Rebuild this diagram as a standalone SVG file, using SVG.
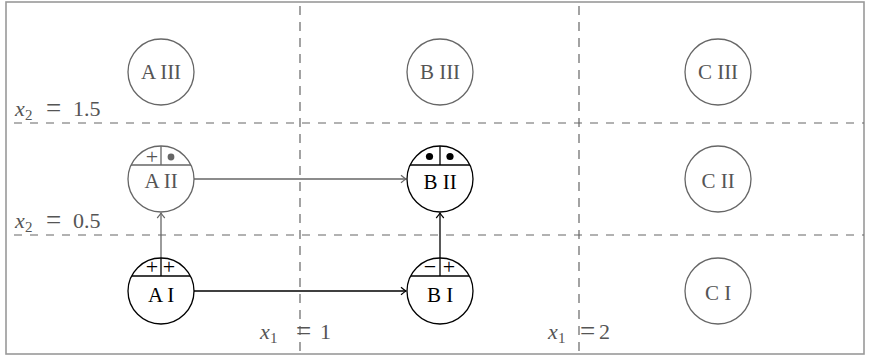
<svg xmlns="http://www.w3.org/2000/svg" width="871" height="356" viewBox="0 0 871 356">
<style>
.frame{fill:#fff;stroke:#999;stroke-width:1.6}
.dash{stroke:#666;stroke-width:1.2;stroke-dasharray:8 8;fill:none}
.vdash{stroke:#666;stroke-width:1.2;stroke-dasharray:9 7;fill:none}
.g{stroke:#666;fill:none;stroke-width:1.3}
.k{stroke:#000;fill:none;stroke-width:1.3}
text{font-family:"Liberation Serif","Times New Roman",serif}
.t{font-size:21px;text-anchor:middle}
.tg{fill:#555}
.tk{fill:#000}
.sym{font-size:22px;text-anchor:middle}
.lab{font-size:22px;fill:#555}
.it{font-style:italic}
.sub{font-size:15px}
.eq{font-size:27px}
</style>
<defs>
<marker id="ag" markerUnits="userSpaceOnUse" markerWidth="12" markerHeight="12" viewBox="-6 -6 12 12" refX="0" refY="0" orient="auto">
<path d="M-5,-3.8 Q-1.5,-0.8 0,0 Q-1.5,0.8 -5,3.8" fill="none" stroke="#666" stroke-width="1.2"/>
</marker>
<marker id="ak" markerUnits="userSpaceOnUse" markerWidth="12" markerHeight="12" viewBox="-6 -6 12 12" refX="0" refY="0" orient="auto">
<path d="M-5,-3.8 Q-1.5,-0.8 0,0 Q-1.5,0.8 -5,3.8" fill="none" stroke="#000" stroke-width="1.2"/>
</marker>
</defs>
<rect class="frame" x="6" y="2" width="858" height="352"/>
<g id="grid">
<line class="vdash" x1="300" y1="6" x2="300" y2="354"/>
<line class="vdash" x1="579" y1="6" x2="579" y2="354"/>
<line class="dash" x1="14" y1="123" x2="864" y2="123"/>
<line class="dash" x1="14" y1="235" x2="864" y2="235"/>
</g>
<g id="labels">
<text class="lab" y="116"><tspan class="it" x="15">x</tspan><tspan class="sub" x="25" dy="4">2</tspan><tspan class="eq" x="46" dy="-3">=</tspan><tspan x="73" dy="-1">1.5</tspan></text>
<text class="lab" y="228"><tspan class="it" x="15">x</tspan><tspan class="sub" x="25" dy="4">2</tspan><tspan class="eq" x="46" dy="-3">=</tspan><tspan x="73" dy="-1">0.5</tspan></text>
<text class="lab" y="339"><tspan class="it" x="260">x</tspan><tspan class="sub" x="270" dy="4">1</tspan><tspan class="eq" x="296" dy="-3">=</tspan><tspan x="320" dy="-1">1</tspan></text>
<text class="lab" y="339"><tspan class="it" x="548">x</tspan><tspan class="sub" x="558" dy="4">1</tspan><tspan class="eq" x="580" dy="-3">=</tspan><tspan x="599" dy="-1">2</tspan></text>
</g>
<g id="connectors">
<line class="g" x1="194" y1="179" x2="406" y2="179" marker-end="url(#ag)"/>
<line class="g" x1="161" y1="258" x2="161" y2="213" marker-end="url(#ag)"/>
<line class="k" x1="194" y1="291" x2="406" y2="291" marker-end="url(#ak)"/>
<line class="k" x1="440" y1="258" x2="440" y2="213" marker-end="url(#ak)"/>
</g>
<g id="A3"><circle class="g" cx="161" cy="72" r="33"/><text class="t tg" x="161" y="79">A III</text></g>
<g id="B3"><circle class="g" cx="440" cy="72" r="33"/><text class="t tg" x="440" y="79">B III</text></g>
<g id="C3"><circle class="g" cx="718" cy="72" r="33"/><text class="t tg" x="718" y="79">C III</text></g>
<g id="A2">
<circle class="g" cx="161" cy="179" r="33"/>
<line class="g" x1="131" y1="165" x2="191" y2="165"/>
<line class="g" x1="161" y1="146" x2="161" y2="165"/>
<text class="sym tg" x="152" y="163.5">+</text>
<circle cx="171" cy="157" r="3.4" fill="#666"/>
<text class="t tg" x="161" y="188">A II</text>
</g>
<g id="B2">
<circle class="k" cx="440" cy="179" r="33"/>
<line class="k" x1="410" y1="165" x2="470" y2="165"/>
<line class="k" x1="440" y1="146" x2="440" y2="165"/>
<circle cx="429.5" cy="156.5" r="3.6" fill="#000"/>
<circle cx="450" cy="156.5" r="3.6" fill="#000"/>
<text class="t tk" x="440" y="189">B II</text>
</g>
<g id="C2"><circle class="g" cx="718" cy="179" r="33"/><text class="t tg" x="718" y="188">C II</text></g>
<g id="A1">
<circle class="k" cx="161" cy="291" r="33"/>
<line class="k" x1="132" y1="276" x2="190" y2="276"/>
<line class="k" x1="161" y1="258" x2="161" y2="276"/>
<text class="sym tk" x="152" y="274">+</text>
<text class="sym tk" x="169" y="274">+</text>
<text class="t tk" x="161" y="302">A I</text>
</g>
<g id="B1">
<circle class="k" cx="440" cy="291" r="33"/>
<line class="k" x1="411" y1="276" x2="469" y2="276"/>
<line class="k" x1="440" y1="258" x2="440" y2="276"/>
<text class="sym tk" x="430" y="274">−</text>
<text class="sym tk" x="449" y="274">+</text>
<text class="t tk" x="440" y="302">B I</text>
</g>
<g id="C1"><circle class="g" cx="718" cy="291" r="33"/><text class="t tg" x="718" y="300">C I</text></g>
</svg>
